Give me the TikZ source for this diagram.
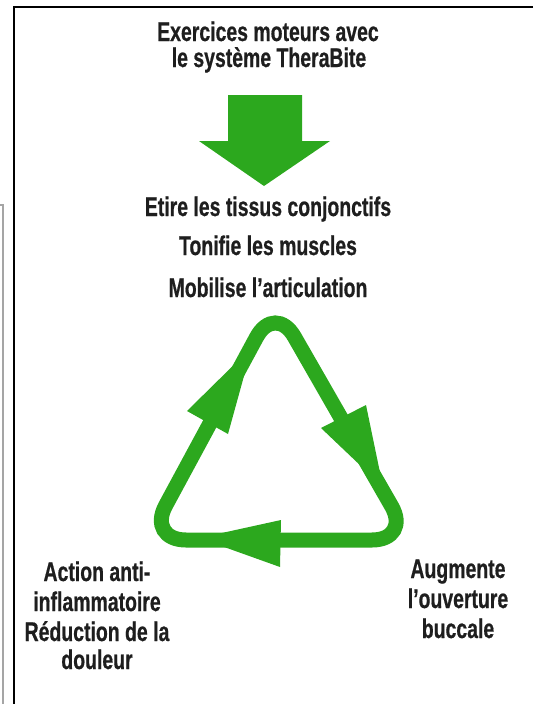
\documentclass[tikz,border=0pt]{standalone}
\usepackage{fontspec}
\setmainfont{Liberation Sans}[FakeStretch=0.72,BoldFeatures={FakeBold=0.6}]
\definecolor{tgreen}{RGB}{44,168,30}
\definecolor{ink}{RGB}{30,30,30}
\definecolor{edgegray}{RGB}{165,165,165}
\begin{document}
\begin{tikzpicture}[x=1pt,y=-1pt,
  txt/.style={font=\bfseries\fontsize{27}{32}\selectfont, text=ink, anchor=base, inner sep=0pt},
  loop/.style={draw=tgreen, line width=15pt, rounded corners=39pt},
  head/.style={fill=tgreen, draw=none}]
\useasboundingbox (0,0) rectangle (533,704);
% frame
\draw[line width=2pt, black] (533,6.8) -- (14.3,6.8) -- (14.3,704);
\draw[line width=1.2pt, edgegray] (0,205) -- (3,205) -- (3,704);
% title
\node[txt] (t1) at (268,41) {Exercices moteurs avec};
\node[txt] (t2) at (269,67) {le système TheraBite};
% down arrow
\fill[head] (228,95) -- (302,95) -- (302,141) -- (330,141) -- (264,186) -- (199,141) -- (228,141) -- cycle;
% effects
\node[txt] (e1) at (268,216) {Etire les tissus conjonctifs};
\node[txt] (e2) at (268,255) {Tonifie les muscles};
\node[txt] (e3) at (268,297) {Mobilise l’articulation};
% cycle triangle
\coordinate (apex) at (275,303);
\coordinate (br) at (411,540);
\coordinate (bl) at (147,540);
\coordinate (bm) at (280,540);
\draw[loop] (bm) -- (bl) -- (apex) -- (br) -- cycle;
% arrowheads
\coordinate (lt) at (252,347);
\fill[head] (lt) -- (187,411) -- (228,434) -- cycle;
\coordinate (rt) at (383,487);
\fill[head] (rt) -- (321,428) -- (366,405) -- cycle;
\coordinate (bt) at (199,538);
\fill[head] (bt) -- (281,520) -- (280,567) -- cycle;
% outcomes
\node[txt] (l1) at (97,581) {Action anti-};
\node[txt] (l2) at (97,611) {inflammatoire};
\node[txt] (l3) at (97,641) {Réduction de la};
\node[txt] (l4) at (97,669) {douleur};
\node[txt] (r1) at (458,578) {Augmente};
\node[txt] (r2) at (458,608) {l’ouverture};
\node[txt] (r3) at (458,638) {buccale};
\end{tikzpicture}
\end{document}
